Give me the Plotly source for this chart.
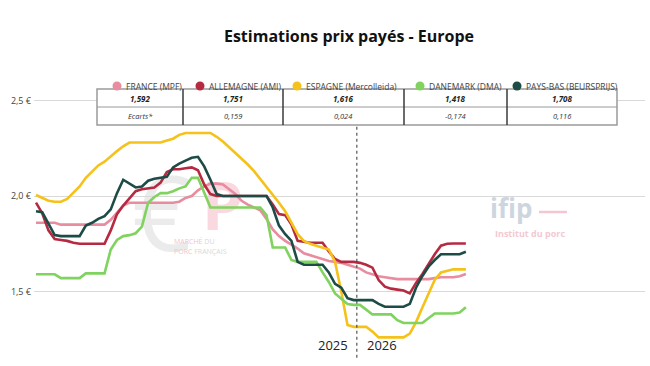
import plotly.graph_objects as go

# ---------------- data ----------------
semaines_2025 = list(range(1, 53))
semaines_2026 = list(range(1, 19))
semaine_index = list(range(len(semaines_2025) + len(semaines_2026)))

noms = ["FRANCE (MPF)", "ALLEMAGNE (AMI)", "ESPAGNE (Mercolleida)", "DANEMARK (DMA)", "PAYS-BAS (BEURSPRIJS)"]
couleurs = ["#e88ca0", "#b52a41", "#f5c21b", "#7fd35e", "#1d4c46"]

france = [1.86, 1.86, 1.86, 1.86,
          1.85, 1.85, 1.85, 1.85, 1.85, 1.85, 1.85, 1.85,
          1.875, 1.915, 1.95, 1.965,
          1.965, 1.965, 1.965, 1.965, 1.965, 1.965, 1.965,
          1.97, 1.99, 2.00, 2.03, 2.05, 2.065, 2.065, 2.06, 2.035, 2.01, 1.975, 1.955, 1.94,
          1.925, 1.88, 1.825, 1.79, 1.765, 1.745, 1.725, 1.70, 1.69, 1.68, 1.67, 1.66, 1.655,
          1.65, 1.64, 1.63, 1.62, 1.60, 1.59, 1.58, 1.575, 1.57,
          1.565, 1.565, 1.565, 1.565, 1.565, 1.565,
          1.57, 1.575, 1.575, 1.575, 1.58, 1.592]

allemagne = [1.965, 1.91, 1.82, 1.775, 1.77, 1.765, 1.755,
             1.75, 1.75, 1.75, 1.75, 1.75,
             1.82, 1.905, 1.95, 1.985, 2.025, 2.035, 2.04, 2.045, 2.07, 2.125, 2.14, 2.14, 2.145,
             2.15, 2.135, 2.06, 2.01,
             2.00, 2.00, 2.00, 2.00, 2.00, 2.00, 2.00, 2.00, 2.00,
             1.955, 1.905, 1.90, 1.85, 1.765, 1.76,
             1.755, 1.755, 1.755,
             1.71, 1.67, 1.655, 1.655, 1.655, 1.65, 1.64, 1.625, 1.56, 1.525, 1.515, 1.51,
             1.505, 1.49, 1.545, 1.59, 1.645, 1.695, 1.74, 1.75, 1.751, 1.751, 1.751]

espagne = [2.005, 1.99, 1.975, 1.97, 1.97, 1.985, 2.015, 2.05, 2.095, 2.13, 2.16, 2.18,
           2.21, 2.235, 2.26, 2.28,
           2.28, 2.28, 2.28, 2.28, 2.28,
           2.29, 2.30, 2.32, 2.33,
           2.33, 2.33, 2.33, 2.33,
           2.31, 2.285, 2.255, 2.225, 2.20, 2.165, 2.13, 2.09, 2.05, 2.01, 1.965, 1.92,
           1.86, 1.80, 1.765, 1.75, 1.74, 1.73, 1.72, 1.655, 1.50, 1.325, 1.315, 1.315,
           1.315, 1.29, 1.26,
           1.26, 1.26, 1.26, 1.26,
           1.28, 1.34, 1.415, 1.49, 1.56, 1.60, 1.61, 1.616, 1.616, 1.616]

danemark = [1.59, 1.59, 1.59, 1.59,
            1.57, 1.57, 1.57, 1.57,
            1.595, 1.595, 1.595, 1.595,
            1.72, 1.77, 1.79, 1.795, 1.805, 1.84, 1.965, 1.995, 2.015, 2.015, 2.025, 2.04,
            2.05, 2.095, 2.095, 2.015, 1.94,
            1.94, 1.94, 1.94, 1.94, 1.94, 1.94, 1.94, 1.94,
            1.90, 1.73, 1.73, 1.73, 1.665,
            1.655, 1.655, 1.655, 1.655,
            1.60, 1.55, 1.49, 1.465, 1.435, 1.43, 1.43, 1.405, 1.38,
            1.38, 1.38, 1.38,
            1.35, 1.335,
            1.335, 1.335, 1.335,
            1.36, 1.385,
            1.385, 1.385, 1.385,
            1.39, 1.418]

pays_bas = [1.92, 1.915, 1.855, 1.795,
            1.79, 1.79, 1.79, 1.79,
            1.845, 1.86, 1.88, 1.895, 1.93, 2.015, 2.085, 2.065, 2.045, 2.05, 2.08, 2.09,
            2.095, 2.10, 2.15, 2.17, 2.185, 2.20, 2.205, 2.155, 2.085, 2.01,
            2.00, 2.00, 2.00, 2.00, 2.00, 2.00, 2.00, 2.00,
            1.94, 1.845, 1.80, 1.765, 1.655,
            1.64, 1.64, 1.64, 1.64,
            1.60, 1.54, 1.52, 1.465,
            1.455, 1.455, 1.455, 1.455,
            1.435,
            1.42, 1.42, 1.42, 1.42,
            1.435, 1.52, 1.58, 1.63, 1.665, 1.695,
            1.695, 1.695, 1.695,
            1.708]

series = [france, allemagne, espagne, danemark, pays_bas]

derniers = ["1,592", "1,751", "1,616", "1,418", "1,708"]
ecarts = ["Ecarts*", "0,159", "0,024", "-0,174", "0,116"]
annees = ["2025", "2026"]
y_ticks = [1.5, 2.0, 2.5]
y_ticktext = ["1,5 €", "2,0 €", "2,5 €"]

# ---------------- geometry helpers ----------------
L, R, T, B = 34, 5, 80, 11
W, H = 650, 366
PW, PH = W - L - R, H - T - B


def px_x(px):
    return (px - L) / PW


def px_y(py):
    return (H - B - py) / PH


fig = go.Figure()

for nom, col, vals in zip(noms, couleurs, series):
    fig.add_trace(go.Scatter(x=semaine_index, y=vals, mode="lines", name=nom,
                             line=dict(color=col, width=2.6), showlegend=False))

shapes = []
annotations = []

# watermark MPF (below traces)
shapes.append(dict(type="rect", xref="paper", yref="paper", layer="below",
                   x0=px_x(118), x1=px_x(206), y0=px_y(264), y1=px_y(170),
                   line=dict(width=0), fillcolor="rgba(0,0,0,0)",
                   label=dict(text="€", textposition="middle center",
                              font=dict(size=104, color="#ebebeb", family="Open Sans"))))
shapes.append(dict(type="rect", xref="paper", yref="paper", layer="below",
                   x0=px_x(195), x1=px_x(250), y0=px_y(240), y1=px_y(178),
                   line=dict(width=0), fillcolor="rgba(0,0,0,0)",
                   label=dict(text="P", textposition="middle center",
                              font=dict(size=66, color="#f9d8df", family="Open Sans", weight="bold"))))
annotations.append(dict(xref="paper", yref="paper", x=px_x(172), y=px_y(241), xanchor="left", yanchor="middle",
                        showarrow=False, font=dict(size=7, family="Open Sans", color="#f0c3cc"),
                        text="MARCHÉ <span style='color:#d9d9d9'>DU</span>"))
annotations.append(dict(xref="paper", yref="paper", x=px_x(172), y=px_y(251), xanchor="left", yanchor="middle",
                        showarrow=False, font=dict(size=7, family="Open Sans", color="#f0c3cc"),
                        text="PORC <span style='color:#d9d9d9'>FRANÇAIS</span>"))

# watermark ifip
annotations.append(dict(xref="paper", yref="paper", x=px_x(511), y=px_y(208), xanchor="center", yanchor="middle",
                        showarrow=False, font=dict(size=26, family="Open Sans", color="#cdd6df", weight="bold"),
                        text="ifip"))
shapes.append(dict(type="line", xref="paper", yref="paper", x0=px_x(539), x1=px_x(567),
                   y0=px_y(212), y1=px_y(212), line=dict(color="#f3c6d0", width=2.5)))
annotations.append(dict(xref="paper", yref="paper", x=px_x(530), y=px_y(233), xanchor="center", yanchor="middle",
                        showarrow=False, font=dict(size=9, family="Open Sans", color="#f3c9d2", weight="bold"),
                        text="Institut du porc"))

# table
tx = [97, 183, 283, 404, 507, 617]
ty = [89, 107, 125]
shapes.append(dict(type="rect", xref="paper", yref="paper", layer="above",
                   x0=px_x(tx[0]), x1=px_x(tx[-1]), y0=px_y(ty[2]), y1=px_y(ty[0]),
                   line=dict(color="#9a9a9a", width=1.5), fillcolor="white"))
shapes.append(dict(type="line", xref="paper", yref="paper", x0=px_x(tx[0]), x1=px_x(tx[-1]),
                   y0=px_y(ty[1]), y1=px_y(ty[1]), line=dict(color="#9a9a9a", width=1.2)))
for xv in tx[1:-1]:
    shapes.append(dict(type="line", xref="paper", yref="paper", x0=px_x(xv), x1=px_x(xv),
                       y0=px_y(ty[2]), y1=px_y(ty[0]), line=dict(color="#3a3a3a", width=1.5)))
for i in range(5):
    cx = (tx[i] + tx[i + 1]) / 2
    annotations.append(dict(xref="paper", yref="paper", x=px_x(cx), y=px_y((ty[0] + ty[1]) / 2),
                            xanchor="center", yanchor="middle", showarrow=False,
                            font=dict(size=8, family="Open Sans", color="#222"),
                            text="<b><i>" + derniers[i] + "</i></b>"))
    annotations.append(dict(xref="paper", yref="paper", x=px_x(cx), y=px_y((ty[1] + ty[2]) / 2),
                            xanchor="center", yanchor="middle", showarrow=False,
                            font=dict(size=7.5, family="Open Sans", color="#333"),
                            text="<i>" + ecarts[i] + "</i>"))

# legend (custom)
leg_cx = [117, 200, 297, 420, 517]
for i in range(5):
    shapes.append(dict(type="circle", xref="paper", yref="paper", xsizemode="pixel", ysizemode="pixel",
                       xanchor=px_x(leg_cx[i]), yanchor=px_y(86), x0=-4.5, x1=4.5, y0=-4.5, y1=4.5,
                       fillcolor=couleurs[i], line=dict(width=0), layer="above"))
    annotations.append(dict(xref="paper", yref="paper", x=px_x(leg_cx[i] + 7), y=px_y(86),
                            xanchor="left", yanchor="middle", showarrow=False,
                            font=dict(size=8.5, family="Open Sans", color="#444"), text=noms[i]))

# year separator
sep = len(semaines_2025) - 0.5
shapes.append(dict(type="line", xref="x", yref="paper", x0=sep, x1=sep, y0=-0.01, y1=px_y(126),
                   line=dict(color="#333", width=1, dash="dot")))
annotations.append(dict(xref="x", yref="paper", x=sep, y=px_y(345), xanchor="right", yanchor="middle",
                        xshift=-7, showarrow=False, font=dict(size=13, family="Open Sans", color="#222"),
                        text=annees[0]))
annotations.append(dict(xref="x", yref="paper", x=sep, y=px_y(345), xanchor="left", yanchor="middle",
                        xshift=8, showarrow=False, font=dict(size=13, family="Open Sans", color="#222"),
                        text=annees[1]))

step = 6.23
x0 = -(36 - L) / step
x1 = x0 + PW / step
v_top = 2.0 + (196 - T) / 191
v_bot = 2.0 - (H - B - 196) / 191

fig.update_layout(
    width=W, height=H, autosize=False,
    margin=dict(l=L, r=R, t=T, b=B),
    paper_bgcolor="white", plot_bgcolor="white",
    separators=", ",
    font=dict(family="Open Sans", color="#333"),
    title=dict(text="<b>Estimations prix payés - Europe</b>", xref="container", yref="container",
               x=349 / W, y=1 - 36 / H, xanchor="center", yanchor="middle",
               font=dict(size=16, family="Open Sans", color="#111")),
    xaxis=dict(range=[x0, x1], showgrid=False, zeroline=False, showticklabels=False, showline=False),
    yaxis=dict(range=[v_bot, v_top], tickvals=y_ticks, ticktext=y_ticktext, automargin=False,
               gridcolor="#d9d9d9", gridwidth=1, zeroline=False, showline=False, ticklabelstandoff=2,
               tickfont=dict(size=9, family="Open Sans", color="#444")),
    shapes=shapes, annotations=annotations, showlegend=False,
)

fig.write_html("out.html", config={"displayModeBar": False},
               post_script="document.body.style.margin='0px';")
